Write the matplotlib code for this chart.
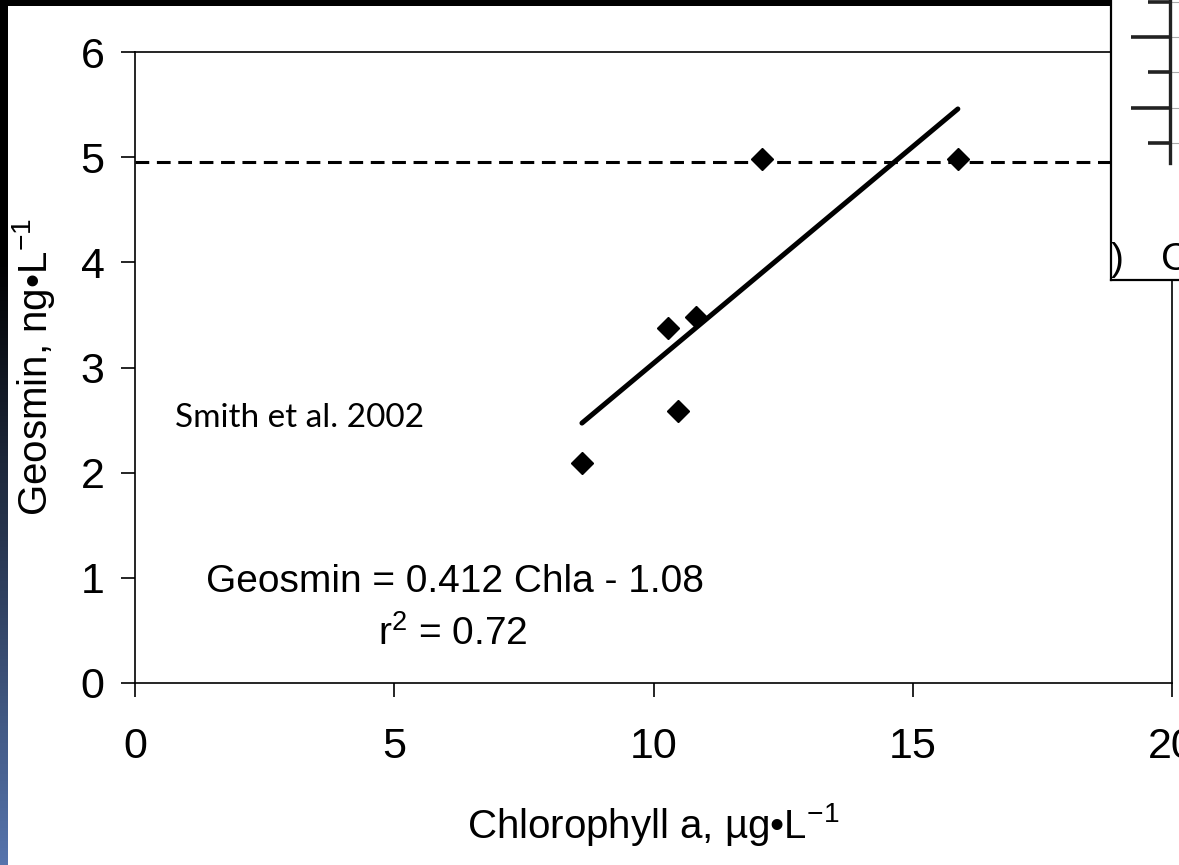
import numpy as np
import matplotlib
matplotlib.use("Agg")
import matplotlib.pyplot as plt
from matplotlib.ticker import FixedLocator

plt.rcParams["font.family"] = ["Liberation Sans", "DejaVu Sans"]
plt.rcParams["mathtext.fontset"] = "custom"
plt.rcParams["mathtext.rm"] = "Liberation Sans"
plt.rcParams["mathtext.it"] = "Liberation Sans"

# Observations: chlorophyll a (µg/L) vs geosmin (ng/L)
chla = [8.62, 10.28, 10.82, 10.47, 12.09, 15.87]
geosmin = [2.09, 3.38, 3.48, 2.59, 4.98, 4.98]

# Linear fit reported on the chart
slope = 0.412
intercept = -1.08
r_squared = 0.72
threshold = 4.95

x_ticks = [0, 5, 10, 15, 20]
y_ticks = [0, 1, 2, 3, 4, 5, 6]

W, H = 1179, 865
fig = plt.figure(figsize=(W / 100, H / 100), dpi=100)
fig.patch.set_facecolor("white")

# Slide frame: dark band along the top, gradient strip on the left
top_band = fig.add_axes([0, 1 - 6 / H, 1, 6 / H])
top_band.set_axis_off()
top_band.add_patch(plt.Rectangle((0, 0), 1, 1, color="black", transform=top_band.transAxes))

strip = fig.add_axes([0, 0, 8 / W, 1])
strip.set_axis_off()
c_top = np.array([0, 0, 0])
c_bot = np.array([86, 116, 172]) / 255
rows = np.clip((np.linspace(0, 1, 256) - 0.30) / 0.70, 0, 1)
img = c_top[None, :] * (1 - rows[:, None]) + c_bot[None, :] * rows[:, None]
strip.imshow(img[:, None, :], aspect="auto", extent=(0, 1, 1, 0))
strip.set_xlim(0, 1)
strip.set_ylim(1, 0)

# Main scatter plot
ax = fig.add_axes([135 / W, 1 - 683 / H, (1172 - 135) / W, (683 - 52) / H])
ax.set_xlim(0, 20)
ax.set_ylim(0, 6)
ax.set_xticks(x_ticks)
ax.set_yticks(y_ticks)
for s in ax.spines.values():
    s.set_linewidth(1.2)
ax.tick_params(axis="both", direction="out", length=10, width=1.2,
               labelsize=31)
ax.tick_params(axis="y", pad=12)
ax.tick_params(axis="x", pad=22)

ax.axhline(threshold, color="black", linewidth=2.2, linestyle=(0, (4.5, 2.5)), zorder=2)

fit_x = np.array([min(chla), max(chla)])
ax.plot(fit_x, slope * fit_x + intercept, color="black", linewidth=3.6,
        solid_capstyle="round", zorder=3)
ax.plot(chla, geosmin, linestyle="none", marker="D", markersize=11,
        color="black", zorder=4)

ax.set_xlabel("Chlorophyll a, µg•L$^{-1}$", fontsize=29, labelpad=24)
ax.set_ylabel("Geosmin, ng•L$^{-1}$", fontsize=29, labelpad=17)

ax.text(6.17, 0.96, f"Geosmin = {slope} Chla - {abs(intercept)}",
        fontsize=28, ha="center", va="center")
ax.text(6.12, 0.47, f"r$^2$ = {r_squared}", fontsize=28, ha="center", va="center")
ax.text(0.77, 2.52, "Smith et al. 2002", fontsize=24, ha="left", va="center",
        family=["Lato", "DejaVu Sans"])

# Corner of an overlapping panel
inset = fig.add_axes([1111 / W, 1 - 280 / H, (W - 1111 + 20) / W, 300 / H])
inset.set_facecolor("white")
inset.set_xlim(0, 1)
inset.set_ylim(0, 1)
inset.set_xticks([])
inset.set_yticks([])
for s in inset.spines.values():
    s.set_linewidth(1.6)
    s.set_color("black")
inset.text(0 / 88, 2 / 300, ")", fontsize=28, ha="left", va="bottom")
inset.text(50 / 88, 2 / 300, "C", fontsize=28, ha="left", va="bottom")

frag = fig.add_axes([1170 / W, 1 - 163 / H, 30 / W, 180 / H])
frag.patch.set_alpha(0)
for k in ["top", "right", "bottom"]:
    frag.spines[k].set_visible(False)
frag.spines["left"].set_linewidth(2.4)
frag.spines["left"].set_color("#222222")
frag.set_xlim(0, 1)
frag.set_ylim(0, 180 / 35.3)
frag.set_xticks([])
frag.yaxis.set_major_locator(FixedLocator([55 / 35.3, 126 / 35.3]))
frag.yaxis.set_minor_locator(FixedLocator([20 / 35.3, 91 / 35.3, 161 / 35.3]))
frag.tick_params(axis="y", which="major", length=28, width=2.6, color="#222222",
                 labelleft=False)
frag.tick_params(axis="y", which="minor", length=16, width=2.6, color="#222222",
                 labelleft=False)
frag.grid(True, which="both", axis="y", color="#aaaaaa", linewidth=0.8)

fig.savefig("out.png", dpi=100, facecolor=fig.get_facecolor())
